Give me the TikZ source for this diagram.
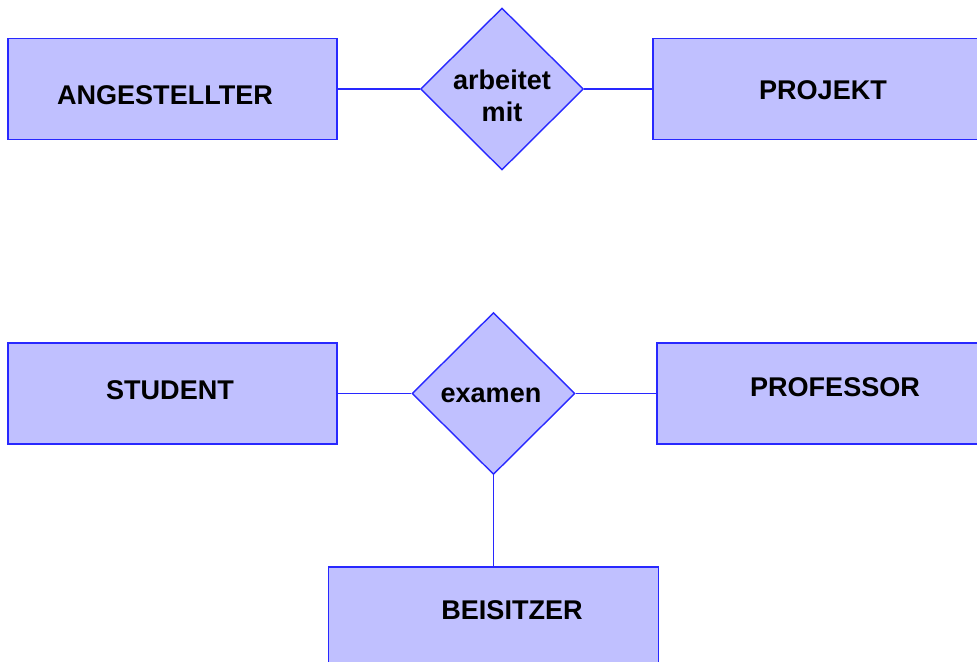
\documentclass[tikz,border=0pt]{standalone}
\usepackage{fontspec}
\setmainfont{Liberation Sans}
\usetikzlibrary{shapes.geometric}

\definecolor{erfill}{RGB}{192,192,255}
\definecolor{erline}{RGB}{40,40,255}

\tikzset{
  entity/.style={rectangle, draw=erline, fill=erfill, line width=0.9pt,
    minimum height=2.02cm, inner sep=0pt},
  relation/.style={diamond, draw=erline, fill=erfill, line width=0.8pt,
    minimum width=3.26cm, minimum height=3.24cm, inner sep=0pt},
  ertext/.style={font=\fontsize{15.4pt}{18.4pt}\selectfont\bfseries,
    align=center, inner sep=0pt},
  link/.style={draw=erline, line width=0.75pt}
}

\begin{document}
\begin{tikzpicture}[x=0.02cm, y=-0.02cm]
				\useasboundingbox (0, 0) rectangle (977, 662);
				\clip (0, 0) rectangle (977, 662);
				% ANGESTELLTER -- arbeitet mit -- PROJEKT
				\node[entity, minimum width=6.58cm] (ang) at (172.5, 89) {};
				\node[relation] (arb) at (502, 89) {};
				\node[entity, minimum width=6.74cm] (proj) at (821.5, 89) {};
				\node[ertext] (ang-t) at (165, 95) {ANGESTELLTER};
				\node[ertext] (arb-t) at (502, 96) {arbeitet\\mit};
				\node[ertext] (proj-t) at (823, 90) {PROJEKT};
				\draw[link] (ang.east) -- (arb.west);
				\draw[link] (arb.east) -- (proj.west);
				% STUDENT -- examen -- PROFESSOR, BEISITZER
				\node[entity, minimum width=6.58cm] (stud) at (172.5, 393.5) {};
				\node[relation] (exam) at (493.5, 393.5) {};
				\node[entity, minimum width=6.66cm] (prof) at (823.5, 393.5) {};
				\node[entity, minimum width=6.6cm] (beis) at (493.5, 617.5) {};
				\node[ertext] (stud-t) at (170, 390) {STUDENT};
				\node[ertext] (exam-t) at (491, 395) {examen};
				\node[ertext] (prof-t) at (835, 387) {PROFESSOR};
				\node[ertext] (beis-t) at (512, 610) {BEISITZER};
				\draw[link] (stud.east) -- (exam.west);
				\draw[link] (exam.east) -- (prof.west);
				\draw[link] (exam.south) -- (beis.north);
			\end{tikzpicture}
\end{document}
